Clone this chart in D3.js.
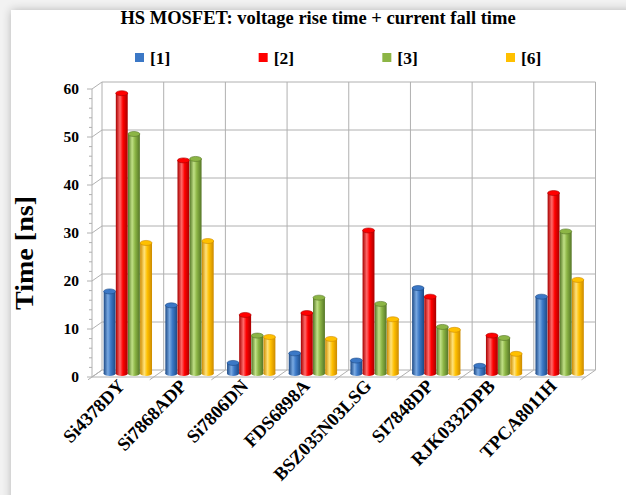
<!DOCTYPE html>
<html><head><meta charset="utf-8">
<script src="https://cdn.jsdelivr.net/npm/d3@7/dist/d3.min.js"></script>
<style>html,body{margin:0;padding:0;background:#fff;}svg{display:block;}</style>
</head><body>
<svg id="chart" width="626" height="495"></svg>
<script>
const categories = ["Si4378DY","Si7868ADP","Si7806DN","FDS6898A","BSZ035N03LSG","SI7848DP","RJK0332DPB","TPCA8011H"];
const seriesNames = ["[1]","[2]","[3]","[6]"];
const s1 = [17.1, 14.2, 2.2, 4.2, 2.7, 17.8, 1.6, 16.0];
const s2 = [58.4, 44.4, 12.2, 12.6, 29.8, 16.0, 7.9, 37.6];
const s3 = [49.9, 44.7, 7.9, 15.8, 14.5, 9.7, 7.4, 29.6];
const s6 = [27.2, 27.6, 7.6, 7.2, 11.3, 9.1, 4.1, 19.5];
const yTicks = [0,10,20,30,40,50,60];
const seriesValues = [s1, s2, s3, s6];
const colors = [
  {base:"#3b78c6", dark:"#1d4a86", light:"#79a9e2"},
  {base:"#ff0000", dark:"#a80000", light:"#ff6a6a"},
  {base:"#8cb545", dark:"#557627", light:"#c0e085"},
  {base:"#ffc000", dark:"#cc8a00", light:"#ffe27a"}
];

const svg = d3.select("#chart");
const font = "'Liberation Serif','Times New Roman',serif";
const defs = svg.append("defs");

svg.append("rect").attr("width",626).attr("height",495).attr("fill","#f2f2f2");
const f = defs.append("filter").attr("id","shadow").attr("x","-10%").attr("y","-10%").attr("width","120%").attr("height","120%");
f.append("feGaussianBlur").attr("in","SourceAlpha").attr("stdDeviation",5);
f.append("feOffset").attr("dx",0).attr("dy",0).attr("result","b");
f.append("feComponentTransfer").append("feFuncA").attr("type","linear").attr("slope",0.25);
const fm = f.append("feMerge"); fm.append("feMergeNode"); fm.append("feMergeNode").attr("in","SourceGraphic");
svg.append("rect").attr("x",11).attr("y",10).attr("width",640).attr("height",520).attr("fill","#fff").attr("filter","url(#shadow)");

const DX = 10, DY = -7;
const xFront = d3.scaleBand().domain(categories).range([92, 585.5]);
const yFront = d3.scaleLinear().domain([0,60]).range([377, 89]);
const yMid = v => yFront(v) + DY/2;
const x1 = d3.scaleBand().domain(seriesNames).range([0, xFront.bandwidth()]).paddingInner(0.02).paddingOuter(0.55);

const grid = svg.append("g").attr("stroke","#b0b0b0").attr("stroke-width",1).attr("fill","none");
const x0 = xFront.range()[0], xEnd = xFront.range()[1];
yTicks.forEach(t => {
  grid.append("line").attr("x1",x0+DX).attr("x2",xEnd+DX).attr("y1",yFront(t)+DY).attr("y2",yFront(t)+DY);
  grid.append("line").attr("x1",x0).attr("x2",x0+DX).attr("y1",yFront(t)).attr("y2",yFront(t)+DY);
});
const bounds = categories.map(c => xFront(c)).concat([xEnd]);
bounds.forEach(b => {
  grid.append("line").attr("x1",b+DX).attr("x2",b+DX).attr("y1",yFront(60)+DY).attr("y2",yFront(0)+DY);
  grid.append("line").attr("x1",b-4).attr("y1",yFront(0)+2.8).attr("x2",b+DX).attr("y2",yFront(0)+DY);
});
grid.append("line").attr("x1",x0).attr("x2",xEnd).attr("y1",yFront(0)).attr("y2",yFront(0));
grid.append("line").attr("x1",x0).attr("x2",x0).attr("y1",yFront(60)).attr("y2",yFront(0));
d3.range(0,61,2).forEach(t => {
  grid.append("line").attr("x1",x0-(t%10===0?5:3)).attr("x2",x0).attr("y1",yFront(t)).attr("y2",yFront(t));
});

colors.forEach((c,i) => {
  const g = defs.append("linearGradient").attr("id","g"+i).attr("x1","0%").attr("x2","100%").attr("y1","0%").attr("y2","0%");
  g.append("stop").attr("offset","0%").attr("stop-color",c.dark);
  g.append("stop").attr("offset","35%").attr("stop-color",c.light);
  g.append("stop").attr("offset","60%").attr("stop-color",c.base);
  g.append("stop").attr("offset","100%").attr("stop-color",c.dark);
});

const bars = svg.append("g");
categories.forEach((cat,ci) => {
  seriesNames.forEach((s,si) => {
    const v = seriesValues[si][ci];
    const w = x1.bandwidth();
    const x = xFront(cat) + x1(s) + DX/2;
    const yt = yMid(v), yb = yMid(0);
    const ry = 2.5;
    bars.append("ellipse").attr("cx",x+w/2).attr("cy",yb).attr("rx",w/2).attr("ry",ry).attr("fill","url(#g"+si+")");
    bars.append("rect").attr("x",x).attr("y",yt).attr("width",w).attr("height",Math.max(0,yb-yt)).attr("fill","url(#g"+si+")");
    bars.append("ellipse").attr("cx",x+w/2).attr("cy",yt).attr("rx",w/2).attr("ry",ry).attr("fill",colors[si].base).attr("stroke",colors[si].dark).attr("stroke-width",0.6);
  });
});

svg.append("g").selectAll("text").data(yTicks).join("text")
  .attr("x",79).attr("y",d=>yFront(d)).attr("dy","0.35em").attr("text-anchor","end")
  .attr("font-family",font).attr("font-weight","bold").attr("font-size",15.5).attr("fill","#000")
  .text(d=>d);

svg.append("g").selectAll("text").data(categories).join("text")
  .attr("transform",d=>`translate(${xFront(d)+xFront.bandwidth()/2+3},${387}) rotate(-46)`)
  .attr("text-anchor","end")
  .attr("font-family",font).attr("font-weight","bold").attr("font-size",18.5).attr("fill","#000")
  .text(d=>d);

svg.append("text").attr("transform","translate(33,253) rotate(-90)").attr("text-anchor","middle")
  .attr("font-family",font).attr("font-weight","bold").attr("font-size",25).attr("fill","#000")
  .attr("textLength",114).attr("lengthAdjust","spacingAndGlyphs").text("Time [ns]");

svg.append("text").attr("x",318).attr("y",24).attr("text-anchor","middle")
  .attr("font-family",font).attr("font-weight","bold").attr("font-size",18.5).attr("fill","#000")
  .text("HS MOSFET: voltage rise time + current fall time");

const lg = svg.append("g");
const legendX = d3.scalePoint().domain(seriesNames).range([135, 506]);
seriesNames.forEach((s,i) => {
  lg.append("rect").attr("x",legendX(s)).attr("y",53).attr("width",9).attr("height",9).attr("fill",colors[i].base);
  lg.append("text").attr("x",legendX(s)+15).attr("y",64).attr("font-family",font).attr("font-weight","bold")
    .attr("font-size",17.5).attr("fill","#000").text(s);
});
</script>
</body></html>
